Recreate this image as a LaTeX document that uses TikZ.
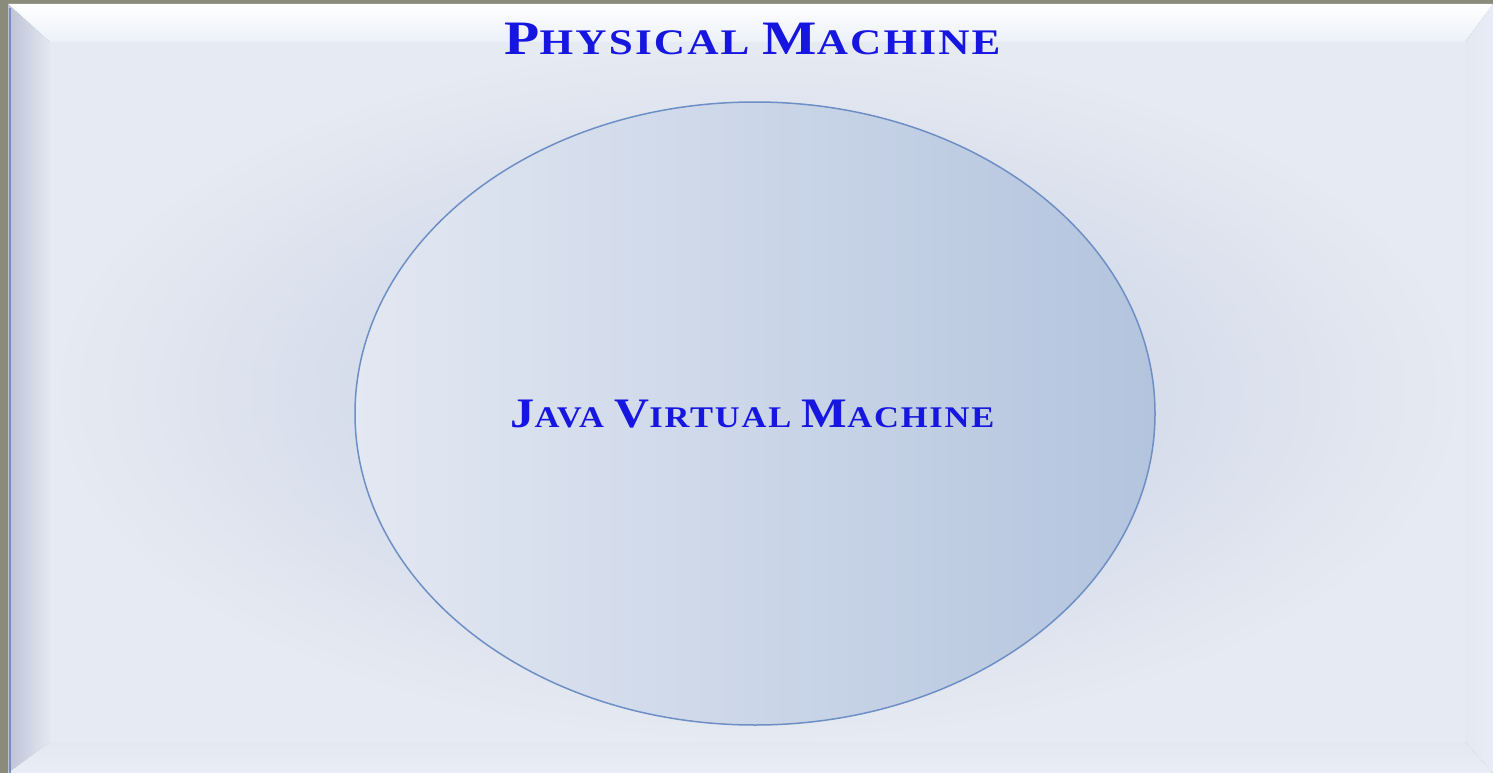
\documentclass[tikz,border=0pt]{standalone}
\usepackage{fontspec}
\setmainfont{Liberation Serif}
\newfontfamily\titlefont{Liberation Serif}[FakeStretch=1.2,LetterSpace=6]
\newfontfamily\jvmfont{Liberation Serif}[FakeStretch=1.15,LetterSpace=6]
\usetikzlibrary{shapes.geometric}
\definecolor{frameGrey}{HTML}{8A8B7A}
\definecolor{pcenter}{HTML}{C4CEE3}
\definecolor{pmid}{HTML}{D6DDEB}
\definecolor{pedge}{HTML}{E6EAF2}
\definecolor{bevelL}{HTML}{BCC3D6}
\definecolor{bevelLi}{HTML}{E4E8F1}
\definecolor{bevelR}{HTML}{E8ECF6}
\definecolor{bevelB}{HTML}{E9EDF5}
\definecolor{bevelT}{HTML}{ECF0F8}
\definecolor{edgeBlue}{HTML}{7A8CC4}
\definecolor{ellLeft}{HTML}{E3E8F2}
\definecolor{ellRight}{HTML}{B3C4DE}
\definecolor{ellLine}{HTML}{6E8FC6}
\definecolor{txtBlue}{HTML}{1616E0}
\pgfdeclareradialshading{panelrad}{\pgfpoint{0bp}{0bp}}{color(0bp)=(pcenter); color(14bp)=(pmid); color(25bp)=(pedge); color(50bp)=(pedge)}
\newcommand\tbig{\fontsize{48}{48}\selectfont}
\newcommand\tsmall{\fontsize{36}{36}\selectfont}
\newcommand\jbig{\fontsize{42}{42}\selectfont}
\newcommand\jsmall{\fontsize{30}{30}\selectfont}
\tikzset{
  labeltext/.style={text=txtBlue, inner sep=0pt, anchor=base},
  jvmshape/.style={ellipse, draw=ellLine, line width=1.5pt, left color=ellLeft, right color=ellRight, inner sep=0pt}
}
\begin{document}
\begin{tikzpicture}[x=1pt,y=-1pt]
\useasboundingbox (0,0) rectangle (1493,773);
\fill[frameGrey] (0,0) rectangle (1493,773);
% inner panel
\shade[shading=panelrad] (50,42) rectangle (1465,742);
% bevels
\shade[top color=white, bottom color=bevelT] (8,4) -- (1493,4) -- (1465,42) -- (50,42) -- cycle;
\shade[left color=bevelL, right color=bevelLi] (8,4) -- (50,42) -- (50,742) -- (8,773) -- cycle;
\shade[left color=bevelLi, right color=bevelR] (1493,4) -- (1465,42) -- (1465,742) -- (1493,773) -- cycle;
\shade[top color=bevelLi, bottom color=bevelB] (8,773) -- (50,742) -- (1465,742) -- (1493,773) -- cycle;
\draw[edgeBlue, line width=2pt] (9.5,8) -- (9.5,773);
% ellipse
\node[jvmshape, minimum width=800, minimum height=623] (jvm) at (755,413.5) {};
\node[labeltext, font=\jvmfont\bfseries] (jvmlabel) at (752.5,427) {{\jbig J}{\jsmall AVA\ }{\jbig V}{\jsmall IRTUAL\ }{\jbig M}{\jsmall ACHINE}};
\node[labeltext, font=\titlefont\bfseries] (title) at (752.5,55) {{\tbig P}{\tsmall HYSICAL\ }{\tbig M}{\tsmall ACHINE}};
\end{tikzpicture}
\end{document}
